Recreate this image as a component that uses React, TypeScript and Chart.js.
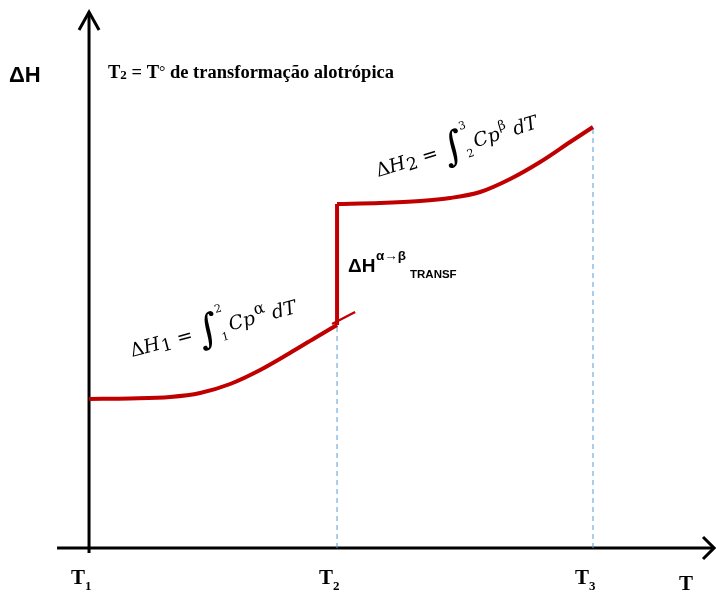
import React, { useEffect, useRef } from "react";
import { Chart, registerables } from "chart.js";

Chart.register(...registerables);

// ---- data (T in arbitrary units, ΔH in arbitrary units) ----
const T_TICKS = [1.0, 2.0, 3.032];
const T_TICK_SUBS = ["1", "2", "3"];

const alphaT = [1.0, 1.165, 1.327, 1.448, 1.569, 1.69, 1.81, 1.911, 2.0];
const alphaH = [1.49, 1.495, 1.51, 1.55, 1.64, 1.78, 1.95, 2.1, 2.23];

const tailT = [1.98, 2.073];
const tailH = [2.24, 2.36];

const transT = [2.0, 2.0];
const transH = [2.23, 3.44];

const betaT = [2.0, 2.173, 2.335, 2.456, 2.577, 2.698, 2.819, 2.94, 3.032];
const betaH = [3.44, 3.45, 3.47, 3.5, 3.56, 3.69, 3.86, 4.06, 4.21];

const guideT2H = [0, 2.23];
const guideT3H = [0, 4.21];

const X_MIN = 0.641;
const X_MAX = 3.528;
const Y_MIN = -0.44;
const Y_MAX = 5.48;

const RED = "#c00000";
const BLUE = "#5b9bd5";
const SERIF = "'Liberation Serif', 'Times New Roman', serif";
const SANS = "'Liberation Sans', Arial, sans-serif";
const MATH = "'DejaVu Serif', serif";

const pts = (xs: number[], ys: number[]) => xs.map((x, i) => ({ x, y: ys[i] }));

type Run = { t: string; f: string; dy?: number; stay?: boolean; gap?: number };

function drawRuns(ctx: CanvasRenderingContext2D, x: number, y: number, ang: number, runs: Run[]) {
  ctx.save();
  ctx.translate(x, y);
  ctx.rotate((ang * Math.PI) / 180);
  ctx.textBaseline = "alphabetic";
  ctx.textAlign = "left";
  let cx = 0;
  for (const r of runs) {
    ctx.font = r.f;
    cx += r.gap || 0;
    ctx.fillText(r.t, cx, r.dy || 0);
    if (!r.stay) cx += ctx.measureText(r.t).width;
  }
  ctx.restore();
}

const decor = {
  id: "decor",
  beforeDatasetsDraw(chart: any) {
    const ctx: CanvasRenderingContext2D = chart.ctx;
    const xs = chart.scales.x;
    const ys = chart.scales.y;
    const ax = xs.getPixelForValue(T_TICKS[0]);
    const ay = ys.getPixelForValue(0);
    ctx.save();
    ctx.strokeStyle = "#000";
    ctx.lineWidth = 3;
    ctx.lineJoin = "miter";
    // y axis
    const yTop = ys.getPixelForValue(5.36);
    ctx.beginPath();
    ctx.moveTo(ax, ys.getPixelForValue(-0.05));
    ctx.lineTo(ax, yTop);
    ctx.stroke();
    ctx.beginPath();
    ctx.moveTo(ax - 10, yTop + 18);
    ctx.lineTo(ax, yTop);
    ctx.lineTo(ax + 10, yTop + 18);
    ctx.stroke();
    // x axis
    const xRight = xs.getPixelForValue(3.52);
    ctx.beginPath();
    ctx.moveTo(xs.getPixelForValue(0.871), ay);
    ctx.lineTo(xRight, ay);
    ctx.stroke();
    ctx.beginPath();
    ctx.moveTo(xRight - 11, ay - 11);
    ctx.lineTo(xRight, ay);
    ctx.lineTo(xRight - 11, ay + 11);
    ctx.stroke();
    ctx.restore();
  },
  afterDatasetsDraw(chart: any) {
    const ctx: CanvasRenderingContext2D = chart.ctx;
    const xs = chart.scales.x;
    ctx.save();
    ctx.fillStyle = "#000";

    // tick labels T1 T2 T3
    T_TICKS.forEach((t, i) => {
      const px = xs.getPixelForValue(t);
      drawRuns(ctx, px - 18, 584, 0, [
        { t: "T", f: `bold 21px ${SERIF}` },
        { t: T_TICK_SUBS[i], f: `bold 13px ${SERIF}`, dy: 6 },
      ]);
    });
    drawRuns(ctx, 679, 590, 0, [{ t: "T", f: `bold 21px ${SERIF}` }]);

    // ΔH axis label
    drawRuns(ctx, 9, 82, 0, [{ t: "ΔH", f: `bold 22px ${SANS}` }]);

    // heading
    drawRuns(ctx, 108, 78, 0, [
      { t: "T", f: `bold 18.5px ${SERIF}` },
      { t: "2", f: `bold 13px ${SERIF}`, dy: 1 },
      { t: " = T", f: `bold 18.5px ${SERIF}` },
      { t: "°", f: `16px ${SERIF}`, dy: -1 },
      { t: " de transformação alotrópica", f: `bold 18.5px ${SERIF}` },
    ]);

    // ΔH alpha->beta TRANSF
    drawRuns(ctx, 348, 272, 0, [{ t: "ΔH", f: `bold 19px ${SANS}` }]);
    drawRuns(ctx, 376, 260, 0, [{ t: "α→β", f: `bold 13.5px ${SANS}` }]);
    drawRuns(ctx, 410, 278, 0, [{ t: "TRANSF", f: `bold 11.5px ${SANS}` }]);

    // ΔH1 integral
    const m = (s: number, it = false) => `${it ? "italic " : ""}${s}px ${MATH}`;
    drawRuns(ctx, 132, 357, -15, [
      { t: "Δ", f: m(19) },
      { t: "H", f: m(19, true) },
      { t: "1", f: m(17), dy: 3, gap: 1 },
      { t: " = ", f: m(19) },
      { t: "∫", f: m(40), dy: 6 },
      { t: "2", f: m(11), dy: -21, stay: true, gap: 1 },
      { t: "1", f: m(11), dy: 8 },
      { t: "Cp", f: m(19, true), gap: 3 },
      { t: "α", f: m(16), dy: -9, gap: 1 },
      { t: " dT", f: m(19, true) },
    ]);

    // ΔH2 integral
    drawRuns(ctx, 378, 177, -17, [
      { t: "Δ", f: m(19) },
      { t: "H", f: m(19, true) },
      { t: "2", f: m(17), dy: 3, gap: 1 },
      { t: " = ", f: m(19) },
      { t: "∫", f: m(40), dy: 6 },
      { t: "3", f: m(11), dy: -21, stay: true, gap: 1 },
      { t: "2", f: m(11), dy: 8 },
      { t: "Cp", f: m(19, true), gap: 3 },
      { t: "β", f: m(13), dy: -9, gap: 1 },
      { t: " dT", f: m(19, true) },
    ]);
    ctx.restore();
  },
};

export default function App() {
  const ref = useRef<HTMLCanvasElement>(null);
  useEffect(() => {
    document.body.style.margin = "0";
    const chart = new Chart(ref.current!, {
      type: "line",
      data: {
        datasets: [
          {
            label: "guide T2",
            data: pts([T_TICKS[1], T_TICKS[1]], guideT2H),
            borderColor: BLUE,
            borderWidth: 1,
            borderDash: [5, 4],
            pointRadius: 0,
            order: 5,
          },
          {
            label: "guide T3",
            data: pts([T_TICKS[2], T_TICKS[2]], guideT3H),
            borderColor: BLUE,
            borderWidth: 1,
            borderDash: [5, 4],
            pointRadius: 0,
            order: 5,
          },
          {
            label: "alpha",
            data: pts(alphaT, alphaH),
            borderColor: RED,
            borderWidth: 4,
            pointRadius: 0,
            cubicInterpolationMode: "monotone",
            order: 1,
          },
          {
            label: "tail",
            data: pts(tailT, tailH),
            borderColor: RED,
            borderWidth: 2.5,
            pointRadius: 0,
            order: 1,
          },
          {
            label: "transition",
            data: pts(transT, transH),
            borderColor: RED,
            borderWidth: 4,
            pointRadius: 0,
            order: 1,
          },
          {
            label: "beta",
            data: pts(betaT, betaH),
            borderColor: RED,
            borderWidth: 4,
            pointRadius: 0,
            cubicInterpolationMode: "monotone",
            order: 1,
          },
        ],
      },
      options: {
        responsive: false,
        animation: false,
        events: [],
        layout: { padding: 0 },
        plugins: { legend: { display: false }, tooltip: { enabled: false } },
        scales: {
          x: { type: "linear", min: X_MIN, max: X_MAX, display: false },
          y: { type: "linear", min: Y_MIN, max: Y_MAX, display: false },
        },
      },
      plugins: [decor],
    });
    return () => chart.destroy();
  }, []);
  return (
    <div style={{ width: 716, height: 592 }}>
      <canvas ref={ref} width={716} height={592} style={{ display: "block" }} />
    </div>
  );
}
